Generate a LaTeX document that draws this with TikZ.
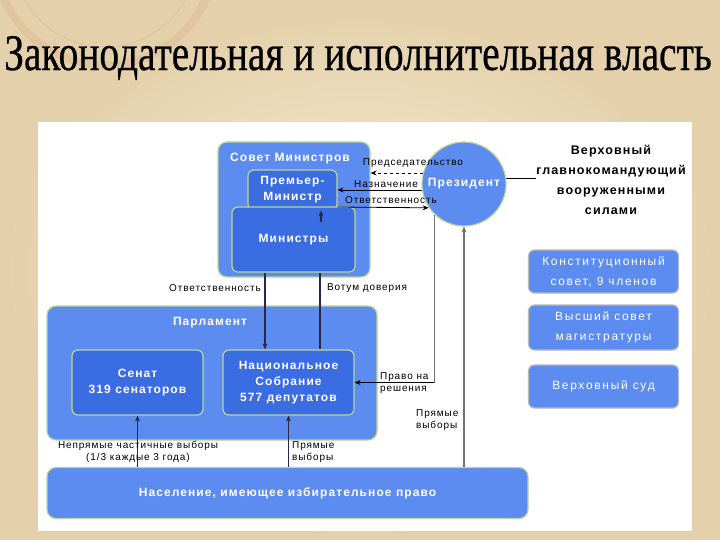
\documentclass[tikz,border=0pt]{standalone}
\usepackage{fontspec}
\setmainfont{Liberation Serif}
\setsansfont{Liberation Sans}
\newfontfamily\titlefont[FakeBold=0.6]{Liberation Serif}
\newfontfamily\boxfont[LetterSpace=9]{Liberation Sans}
\newfontfamily\sidefont[LetterSpace=14]{Liberation Sans}
\newfontfamily\lblfont[LetterSpace=9]{Liberation Sans}
\usepackage{graphicx}
\usetikzlibrary{arrows.meta}
\definecolor{paperL}{RGB}{247,236,212}
\definecolor{paperD}{RGB}{228,208,170}
\definecolor{boxO}{RGB}{92,140,240}
\definecolor{boxI}{RGB}{58,108,226}
\definecolor{rimG}{RGB}{186,214,150}
\definecolor{lineG}{RGB}{112,112,120}
\definecolor{lineD}{RGB}{40,40,72}
\begin{document}
\begin{tikzpicture}[x=1pt,y=-1pt,box/.style={shape=rectangle,rounded corners=9pt,draw=rimG,line width=1.2pt,fill=boxO,inner sep=0pt},boxI/.style={box,fill=boxI,rounded corners=6pt,text=white,align=center,font=\boxfont\bfseries\fontsize{12}{16}\selectfont},boxR/.style={box,draw=gray!55,rounded corners=6pt,minimum width=150pt,text=white,align=center,font=\sidefont\fontsize{12}{20}\selectfont},ttl/.style={text=white,inner sep=0pt,font=\boxfont\bfseries\fontsize{12}{14}\selectfont},lbl/.style={inner sep=0pt,align=left,font=\lblfont\fontsize{10}{11.5}\selectfont},arr/.style={-{Stealth[length=6pt,width=5pt]}},connH/.style={line width=0.8pt},connV/.style={lineD,line width=1.6pt},connG/.style={lineG,line width=1.6pt}]
\useasboundingbox (0,0) rectangle (720,540);
\clip (0,0) rectangle (720,540);
\shade[inner color=paperL,outer color=paperD] (0,0) rectangle (720,540);
\draw[brown!60,opacity=0.35,line width=8pt] (105,-45) circle (110);
\draw[brown!60,opacity=0.35,line width=1pt] (105,-45) circle (92);
\fill[white] (38,122) rectangle (692,531);

\node[inner sep=0pt,font=\titlefont\fontsize{39.4}{43}\selectfont] (T) at (358,58) {\scalebox{1}[1.3]{Законодательная и исполнительная власть}};

\node[box,minimum width=152pt,minimum height=135pt] (SM) at (294,209.5) {};
\node[ttl] (SMt) at (290,159) {Совет Министров};
\node[boxI,minimum width=89pt,minimum height=40pt] (PM) at (292.5,190) {Премьер-\\Министр};
\node[boxI,minimum width=123pt,minimum height=65pt] (Min) at (293.5,239.5) {Министры};

\node[shape=circle,fill=boxO,draw=rimG,line width=1.2pt,minimum size=84pt,inner sep=0pt,text=white,font=\boxfont\bfseries\fontsize{12}{14}\selectfont] (Pr) at (464,184) {Президент};
\node[inner sep=0pt,align=center,font=\boxfont\bfseries\fontsize{12.5}{20}\selectfont] (VG) at (611,180) {Верховный\\главнокомандующий\\вооруженными\\силами};

\node[boxR,minimum height=43pt] (KS) at (603.5,271.5) {Конституционный\\совет, 9 членов};
\node[boxR,minimum height=45pt] (VSM) at (603.5,327.5) {Высший совет\\магистратуры};
\node[boxR,minimum height=43pt] (VS) at (603.5,386.5) {Верховный суд};

\node[box,minimum width=330pt,minimum height=134pt] (Parl) at (212,373) {};
\node[ttl] (Parlt) at (210,323) {Парламент};
\node[boxI,minimum width=131pt,minimum height=65pt] (Sen) at (137.5,382.5) {Сенат\\319 сенаторов};
\node[boxI,minimum width=131pt,minimum height=65pt] (NS) at (288.5,382.5) {Национальное\\Собрание\\577 депутатов};

\node[box,minimum width=481pt,minimum height=51pt,text=white,font=\boxfont\bfseries\fontsize{12}{14}\selectfont] (Nas) at (287.5,493) {Население, имеющее избирательное право};

\draw[connH,arr,dashed] (Pr.165) -- (SM.east |- Pr.165);
\draw[connH,arr] (Pr.188) -- (PM.east |- Pr.188);
\draw[connH,arr] ([yshift=-17pt]PM.east) -- (Pr.214);
\draw[connV,arr] ([xshift=27.5pt,yshift=-16pt]Min.north) -- ([xshift=28.5pt]PM.south);
\draw[connH] (Pr.8) -- (VG.west |- Pr.8);

\draw[connV,arr] ([xshift=-28.5pt]Min.south) -- ([xshift=-28.5pt]Min.south |- NS.north);
\draw[connV] ([xshift=26.5pt]Min.south) -- ([xshift=26.5pt]Min.south |- NS.north);

\coordinate (PrR) at (Pr.226 |- NS.east);
\draw[connG] (Pr.226) -- (PrR);
\draw[connH,arr] (PrR) -- (NS.east);
\draw[connG,arr] (Nas.north -| Pr.south) -- (Pr.south);
\draw[connV,arr] (Nas.north -| Sen.south) -- (Sen.south);
\draw[connV,arr] (Nas.north -| NS.south) -- (NS.south);

\node[lbl] (LPred) at (413,163) {Председательство};
\node[lbl] (LNaz) at (386,184) {Назначение};
\node[lbl] (LOtv) at (391,200) {Ответственность};
\node[lbl] (LOtvM) at (215,288) {Ответственность};
\node[lbl] (LVot) at (367,288) {Вотум доверия};
\node[lbl,anchor=west] (LPrav) at (380,383) {Право на\\решения};
\node[lbl,anchor=west] (LPv) at (416,420) {Прямые\\выборы};
\node[lbl,align=center] (LNep) at (138,452) {Непрямые частичные выборы\\(1/3 каждые 3 года)};
\node[lbl,anchor=west] (LPvN) at (292,452) {Прямые\\выборы};
\end{tikzpicture}
\end{document}
